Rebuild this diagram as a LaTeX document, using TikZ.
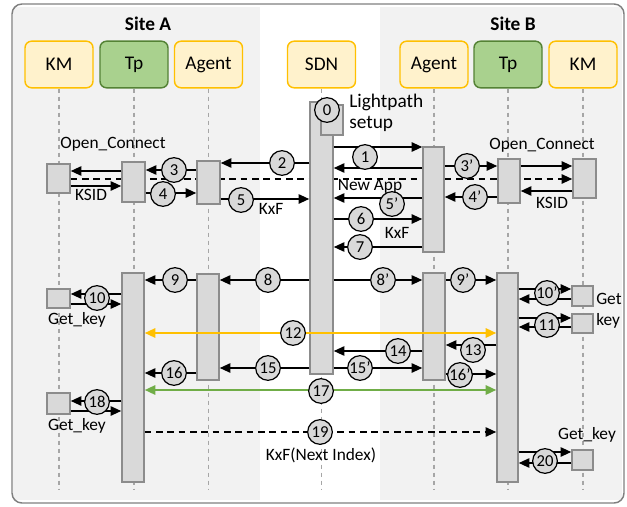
\documentclass[tikz,border=0pt]{standalone}
\usepackage{fontspec}
\setmainfont{Carlito}
\usetikzlibrary{arrows.meta,fit}
\definecolor{sitebg}{HTML}{F2F2F2}
\definecolor{frameg}{HTML}{7F7F7F}
\definecolor{ylwfill}{HTML}{FFF2CC}
\definecolor{ylwline}{HTML}{FFC000}
\definecolor{grnfill}{HTML}{A9D18E}
\definecolor{grnline}{HTML}{548235}
\definecolor{barfill}{HTML}{D9D9D9}
\definecolor{barline}{HTML}{8C8C8C}
\definecolor{lifeg}{HTML}{A6A6A6}
\definecolor{orng}{HTML}{FFC000}
\definecolor{grnarr}{HTML}{70AD47}
\pgfdeclarelayer{backlayer}
\pgfdeclarelayer{midlayer}
\pgfsetlayers{backlayer,midlayer,main}
\newcommand\mymsg[4][]{\draw[msgst,#1] (#2 |- 0,#4) -- (#3 |- 0,#4);}
\begin{document}
\begin{tikzpicture}[x=0.75pt,y=-0.75pt,
 hdr/.style={rounded corners=5pt, line width=1.1pt, minimum width=51pt, minimum height=35pt, font=\fontsize{14.5}{17}\selectfont},
 ylw/.style={hdr, draw=ylwline, fill=ylwfill},
 grn/.style={hdr, draw=grnline, fill=grnfill},
 barst/.style={draw=barline, fill=barfill, line width=1.1pt, inner sep=0pt},
 life/.style={draw=lifeg, line width=0.8pt, dash pattern=on 3pt off 3pt},
 msgst/.style={-{Triangle[length=8pt,width=7pt]}, line width=1.3pt},
 dmsg/.style={msgst, dash pattern=on 5pt off 3.5pt},
 bidir/.style={{Triangle[length=8pt,width=7pt]}-{Triangle[length=8pt,width=7pt]}, line width=1.6pt},
 num/.style={circle, draw, fill=barfill, line width=0.9pt, minimum size=18.5pt, inner sep=0pt, font=\fontsize{12.5}{14}\selectfont},
 lbl/.style={font=\fontsize{13}{15}\selectfont, inner sep=0pt},
 site/.style={font=\bfseries\fontsize{14.5}{17}\selectfont, inner sep=0pt}]
\useasboundingbox (0,0) rectangle (627,506);
% backgrounds
\begin{pgfonlayer}{backlayer}
\fill[sitebg] (13,7) rectangle (260,500);
\fill[sitebg] (380,7) rectangle (622,500);
\draw[frameg, line width=1.1pt, rounded corners=7.5pt] (12,4) rectangle (624,503);
\end{pgfonlayer}
\node[site] (siteA) at (148,24) {Site A};
\node[site] (siteB) at (513,24) {Site B};
% headers
\node[ylw] (kmA) at (59,64.5) {KM};
\node[grn] (tpA) at (134,64.5) {Tp};
\node[ylw] (agA) at (208.5,64.5) {Agent};
\node[ylw] (sdnH) at (321.5,64.5) {SDN};
\node[ylw] (agB) at (434,64.5) {Agent};
\node[grn] (tpB) at (508,64.5) {Tp};
\node[ylw] (kmB) at (583,64.5) {KM};
% lifelines
\begin{pgfonlayer}{midlayer}
\foreach \h in {kmA,tpA,agA,sdnH,agB,tpB,kmB}{\draw[life] (\h.south) -- (\h.south |- 0,489);}
\end{pgfonlayer}
% bars
\node[barst, fit={(122,162)(145,202)}] (tpA1) {};
\node[barst, fit={(197,161)(220,204)}] (agA1) {};
\node[barst, fit={(47,164)(70,193)}] (kmA1) {};
\node[barst, fit={(310,102)(333,374)}] (sdn) {};
\node[barst, fit={(423,147)(444,252)}] (agB1) {};
\node[barst, fit={(498,159)(520,203)}] (tpB1) {};
\node[barst, fit={(573,159)(596,198)}] (kmB1) {};
\node[barst, fit={(321,105)(343,135)}] (lp) {};
\node[barst, fit={(122,273)(144,482)}] (tpA2) {};
\node[barst, fit={(197,274)(219,380)}] (agA2) {};
\node[barst, fit={(423,273)(445,380)}] (agB2) {};
\node[barst, fit={(497,273)(518,482)}] (tpB2) {};
\node[barst, fit={(47,289)(70,308)}] (kmA2) {};
\node[barst, fit={(572,286)(593,306)}] (kmB2) {};
\node[barst, fit={(572,314)(593,333)}] (kmB3) {};
\node[barst, fit={(47,393)(70,414)}] (kmA3) {};
\node[barst, fit={(572,450)(593,470)}] (kmB4) {};
% New App dashed line, behind the bars
\begin{pgfonlayer}{midlayer}
\draw[dmsg] (kmA1.east |- 0,179) -- (kmB1.west |- 0,179);
\end{pgfonlayer}
% phase 1 messages
\mymsg{sdn.east}{agB1.west}{147}
\mymsg{agB1.west}{sdn.east}{168}
\mymsg{sdn.west}{agA1.east}{163}
\mymsg{agA1.west}{tpA1.east}{170}
\mymsg{tpA1.west}{kmA1.east}{171}
\mymsg{kmA1.east}{tpA1.west}{186}
\mymsg{tpA1.east}{agA1.west}{193}
\mymsg{agA1.east}{sdn.west}{199}
\mymsg{agB1.east}{tpB1.west}{166}
\mymsg{tpB1.east}{kmB1.west}{166}
\mymsg{kmB1.west}{tpB1.east}{191}
\mymsg{tpB1.west}{agB1.east}{197}
\mymsg{agB1.west}{sdn.east}{198}
\mymsg{sdn.east}{agB1.west}{219}
\mymsg{agB1.west}{sdn.east}{247}
% phase 2 messages
\mymsg{sdn.west}{agA2.east}{280}
\mymsg{sdn.east}{agB2.west}{280}
\mymsg{agA2.west}{tpA2.east}{280}
\mymsg{agB2.east}{tpB2.west}{280}
\mymsg{tpA2.west}{kmA2.east}{294}
\mymsg{kmA2.east}{tpA2.west}{304}
\mymsg{tpB2.east}{kmB2.west}{289}
\mymsg{kmB2.west}{tpB2.east}{299}
\mymsg{tpB2.east}{kmB3.west}{318}
\mymsg{kmB3.west}{tpB2.east}{327}
\mymsg[bidir, draw=orng, fill=orng]{tpA2.east}{tpB2.west}{333}
\mymsg{tpB2.west}{agB2.east}{345}
\mymsg{agB2.west}{sdn.east}{351}
\mymsg{sdn.west}{agA2.east}{368}
\mymsg{sdn.east}{agB2.west}{368}
\mymsg{agA2.west}{tpA2.east}{373}
\mymsg{agB2.east}{tpB2.west}{374}
\mymsg[bidir, draw=grnarr, fill=grnarr]{tpA2.east}{tpB2.west}{390}
\mymsg{tpA2.west}{kmA3.east}{401}
\mymsg{kmA3.east}{tpA2.west}{411}
\mymsg[dmsg]{tpA2.east}{tpB2.west}{432}
\mymsg{tpB2.east}{kmB4.west}{452}
\mymsg{kmB4.west}{tpB2.east}{463}
% circles
\node[num] (n0) at (327,110) {0};
\node[num] (n1) at (365,157) {1};
\node[num] (n2) at (282,163) {2};
\node[num] (n3) at (174,170) {3};
\node[num] (n4) at (163,194) {4};
\node[num] (n5) at (241,200) {5};
\node[num] (n3p) at (467,166) {3’};
\node[num] (n4p) at (475,197) {4’};
\node[num] (n5p) at (392,204) {5’};
\node[num] (n6) at (361,219) {6};
\node[num] (n7) at (360,247) {7};
\node[num] (n8) at (268,280) {8};
\node[num] (n8p) at (383,280) {8’};
\node[num] (n9) at (175,280) {9};
\node[num] (n9p) at (463,280) {9’};
\node[num] (n10) at (97,298) {10};
\node[num] (n10p) at (547,293) {10’};
\node[num] (n11) at (547,325) {11};
\node[num] (n12) at (293,333) {12};
\node[num] (n13) at (473,350) {13};
\node[num] (n14) at (398,351) {14};
\node[num] (n15) at (268,368) {15};
\node[num] (n15p) at (360,368) {15’};
\node[num] (n16) at (174,373) {16};
\node[num] (n16p) at (460,375) {16’};
\node[num] (n17) at (321,391) {17};
\node[num] (n18) at (97,402) {18};
\node[num] (n19) at (320,432) {19};
\node[num] (n20) at (545,461) {20};
% labels
\node[lbl, font=\fontsize{14.5}{17}\selectfont, anchor=west] (lp1) at (349,102) {Lightpath};
\node[lbl, font=\fontsize{14.5}{17}\selectfont, anchor=west] (lp2) at (349,124) {setup};
\node[lbl] (ocA) at (113,144) {Open\_Connect};
\node[lbl] (ocB) at (542,145) {Open\_Connect};
\node[lbl] (ksA) at (91,195) {KSID};
\node[lbl] (ksB) at (552,203) {KSID};
\node[lbl] (nap) at (370,186) {New App};
\node[lbl] (kxf1) at (271,209) {KxF};
\node[lbl] (kxf2) at (397,233) {KxF};
\node[lbl] (gk1) at (77,320) {Get\_key};
\node[lbl, anchor=west] (gk2a) at (596,299) {Get};
\node[lbl, anchor=west] (gk2b) at (596,321) {key};
\node[lbl] (gk3) at (77,426) {Get\_key};
\node[lbl] (gk4) at (587,435) {Get\_key};
\node[lbl] (kxfn) at (321,455) {KxF(Next Index)};
\end{tikzpicture}
\end{document}
